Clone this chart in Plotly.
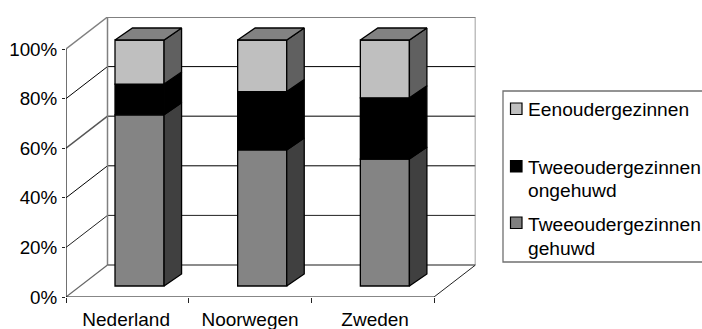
import plotly.graph_objects as go

# Household composition by country, shares in percent
countries = ["Nederland", "Noorwegen", "Zweden"]
gehuwd = [69.6, 55.3, 51.6]
ongehuwd = [12.5, 23.7, 24.9]
eenouder = [17.9, 21.0, 23.5]
y_ticks = [0, 20, 40, 60, 80, 100]
y_labels = ["0%", "20%", "40%", "60%", "80%", "100%"]

W, H = 702, 329
FONT = "Liberation Sans"

# Pixel layout of the pseudo-3D box
X0, X3, Y0, Y100 = 66.0, 434.0, 297.0, 49.0
WALL_DX, WALL_DY = 41.5, 32.0
UX = (X3 - X0) / 3.0
UY = (Y0 - Y100) / 100.0
DEPTH_X = WALL_DX / UX
DEPTH_Y = WALL_DY / UY

BAR_WIDTH = 0.40
FRONT_X, FRONT_Y = 12.2 / UX, 11.0 / UY
SIDE_X, SIDE_Y = 17.5 / UX, 12.0 / UY
BAR_SCALE = 246.0 / 248.0

FRONTS = ["#848484", "#000000", "#BFBFBF"]
SIDES = ["#404040", "#000000", "#606060"]
TOP = "#828282"

fig = go.Figure()


def wall_line(x0, y0, x1, y1, color="#000000", width=1.0):
    fig.add_shape(type="line", xref="x", yref="y", x0=x0, y0=y0, x1=x1, y1=y1,
                  layer="below", line=dict(color=color, width=width))


# Back wall, left wall and floor
grid_style = {20: ("#222222", 1.0), 40: ("#000000", 1.0), 60: ("#555555", 1.5),
              80: ("#000000", 1.0)}
for v, (c, w) in grid_style.items():
    wall_line(0, v, DEPTH_X, v + DEPTH_Y, c, w)
    wall_line(DEPTH_X, v + DEPTH_Y, 3 + DEPTH_X, v + DEPTH_Y, c, w)
GREY = "#808080"
wall_line(0, 100, DEPTH_X, 100 + DEPTH_Y, GREY, 1.5)
wall_line(DEPTH_X, 100 + DEPTH_Y, 3 + DEPTH_X, 100 + DEPTH_Y, GREY, 2)
wall_line(DEPTH_X, DEPTH_Y, DEPTH_X, 100 + DEPTH_Y, GREY, 1.5)
wall_line(3 + DEPTH_X, DEPTH_Y, 3 + DEPTH_X, 100 + DEPTH_Y, GREY, 1.5)
wall_line(DEPTH_X, DEPTH_Y, 3 + DEPTH_X, DEPTH_Y, "#666666", 1.5)
wall_line(0, 0, DEPTH_X, DEPTH_Y, "#666666", 1.2)
wall_line(3, 0, 3 + DEPTH_X, DEPTH_Y, "#222222", 1.0)
wall_line(0, 0, 0, 100, "#111111", 1.2)
wall_line(0, 0, 3, 0, "#111111", 1.2)

# Stacked columns: front faces as bars, side and top faces as filled polygons
series = [gehuwd, ongehuwd, eenouder]
names = ["Tweeoudergezinnen gehuwd", "Tweeoudergezinnen ongehuwd", "Eenoudergezinnen"]
for s, values in enumerate(series):
    lower = [sum(series[k][i] for k in range(s)) for i in range(len(countries))]
    fig.add_trace(go.Bar(
        x=[i + 0.5 + FRONT_X for i in range(len(countries))],
        y=[v * BAR_SCALE for v in values],
        base=[b * BAR_SCALE + FRONT_Y for b in lower],
        width=BAR_WIDTH, name=names[s], showlegend=False,
        marker=dict(color=FRONTS[s], line=dict(color="#000000", width=1.3)),
    ))
    for i in range(len(countries)):
        right = i + 0.5 + FRONT_X + BAR_WIDTH / 2
        y_lo = lower[i] * BAR_SCALE + FRONT_Y
        y_hi = (lower[i] + values[i]) * BAR_SCALE + FRONT_Y
        fig.add_trace(go.Scatter(
            x=[right, right + SIDE_X, right + SIDE_X, right, right],
            y=[y_lo, y_lo + SIDE_Y, y_hi + SIDE_Y, y_hi, y_lo],
            fill="toself", fillcolor=SIDES[s], mode="lines",
            line=dict(color="#000000", width=1.3), showlegend=False, hoverinfo="skip",
        ))
for i in range(len(countries)):
    right = i + 0.5 + FRONT_X + BAR_WIDTH / 2
    left = right - BAR_WIDTH
    top = sum(col[i] for col in series) * BAR_SCALE + FRONT_Y
    fig.add_trace(go.Scatter(
        x=[left, left + SIDE_X, right + SIDE_X, right, left],
        y=[top, top + SIDE_Y, top + SIDE_Y, top, top],
        fill="toself", fillcolor=TOP, mode="lines",
        line=dict(color="#000000", width=1.3), showlegend=False, hoverinfo="skip",
    ))


def px_x(p):
    return p / W


def px_y(p):
    return 1 - p / H


# Legend box, swatches and labels; the box runs off the right edge of the page
fig.add_shape(type="rect", xref="paper", yref="paper",
              x0=px_x(503), x1=px_x(712), y0=px_y(262), y1=px_y(91),
              line=dict(color="#707070", width=1.3), fillcolor="#FFFFFF")
swatches = [(103, "#BFBFBF"), (160.5, "#000000"), (217, "#808080")]
for top_px, color in swatches:
    fig.add_shape(type="rect", xref="paper", yref="paper",
                  x0=px_x(510.5), x1=px_x(522), y0=px_y(top_px + 11.5), y1=px_y(top_px),
                  line=dict(color="#000000", width=1.2), fillcolor=color)
legend_lines = [("Eenoudergezinnen", 109), ("Tweeoudergezinnen", 167), ("ongehuwd", 190),
                ("Tweeoudergezinnen", 224), ("gehuwd", 248)]
for text, y_px in legend_lines:
    fig.add_annotation(text=text, xref="paper", yref="paper", x=px_x(527.5), y=px_y(y_px),
                       xanchor="left", yanchor="middle", showarrow=False, align="left",
                       borderpad=0, borderwidth=0, xshift=0,
                       font=dict(family=FONT, size=19.2, color="#000000"))

fig.update_layout(
    width=W, height=H, margin=dict(l=0, r=0, t=0, b=0, autoexpand=False),
    paper_bgcolor="#FFFFFF", plot_bgcolor="#FFFFFF", barmode="overlay", showlegend=False,
    font=dict(family=FONT, color="#000000"),
    xaxis=dict(
        domain=[X0 / W, (X3 + WALL_DX) / W], range=[0, 3 + DEPTH_X],
        tickmode="array", tickvals=[0.49, 1.5, 2.52], ticktext=countries,
        ticks="outside", ticklen=0, tickcolor="#000000", ticklabelstandoff=5,
        showgrid=False, zeroline=False, showline=False,
        tickfont=dict(family=FONT, size=19, color="#000000"),
        minor=dict(tickmode="array", tickvals=[0, 1, 2, 3], ticks="outside", ticklen=5,
                   tickcolor="#222222", tickwidth=1, showgrid=False),
    ),
    yaxis=dict(
        domain=[1 - Y0 / H, 1 - (Y100 - WALL_DY) / H], range=[0, 100 + DEPTH_Y],
        tickmode="array", tickvals=y_ticks, ticktext=y_labels,
        ticks="outside", ticklen=3, tickcolor="#222222", tickwidth=1, ticklabelstandoff=1,
        showgrid=False, zeroline=False, showline=False,
        tickfont=dict(family=FONT, size=18.8, color="#000000"),
    ),
)

fig.write_html("out.html")
